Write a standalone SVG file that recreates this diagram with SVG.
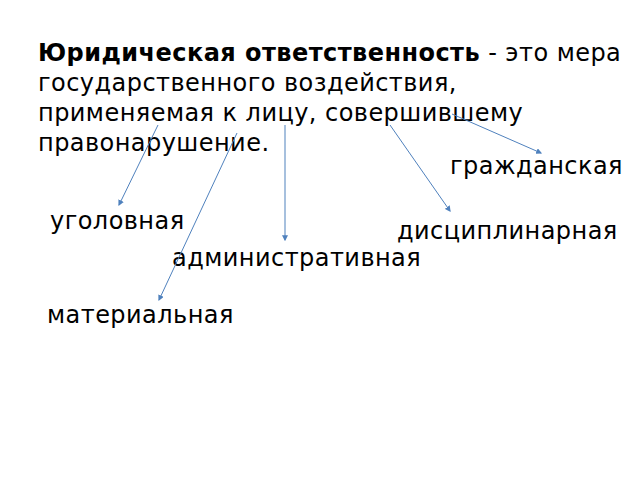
<svg xmlns="http://www.w3.org/2000/svg" width="640" height="480" viewBox="0 0 640 480">
<style>
text{font-family:"DejaVu Sans",sans-serif;font-size:24px;letter-spacing:0.45px;fill:#000}
.c line{stroke:#4f81bd;stroke-width:1;marker-end:url(#ah)}
</style>
<defs>
<marker id="ah" viewBox="0 0 10 10" refX="8" refY="5" markerWidth="6" markerHeight="6" orient="auto" markerUnits="userSpaceOnUse"><path d="M0,0L10,5L0,10z" fill="#4f81bd"/></marker>
</defs>
<rect width="640" height="480" fill="#fff"/>
<g id="definition">
<text x="38" y="61"><tspan font-weight="bold">Юридическая ответственность</tspan> - это мера</text>
<text x="38" y="91">государственного воздействия,</text>
<text x="38" y="121">применяемая к лицу, совершившему</text>
<text x="38" y="151">правонарушение.</text>
</g>
<g id="grazhdanskaya"><text x="450" y="174">гражданская</text></g>
<g id="ugolovnaya"><text x="50" y="229">уголовная</text></g>
<g id="distsiplinarnaya"><text x="397" y="239">дисциплинарная</text></g>
<g id="administrativnaya"><text x="172" y="266">административная</text></g>
<g id="materialnaya"><text x="47" y="323">материальная</text></g>
<g id="connectors" class="c">
<line x1="158" y1="125" x2="119" y2="205"/>
<line x1="237" y1="133" x2="159" y2="300"/>
<line x1="285" y1="125" x2="285" y2="240"/>
<line x1="390" y1="125" x2="450" y2="211"/>
<line x1="452" y1="114" x2="541" y2="153"/>
</g>
</svg>
